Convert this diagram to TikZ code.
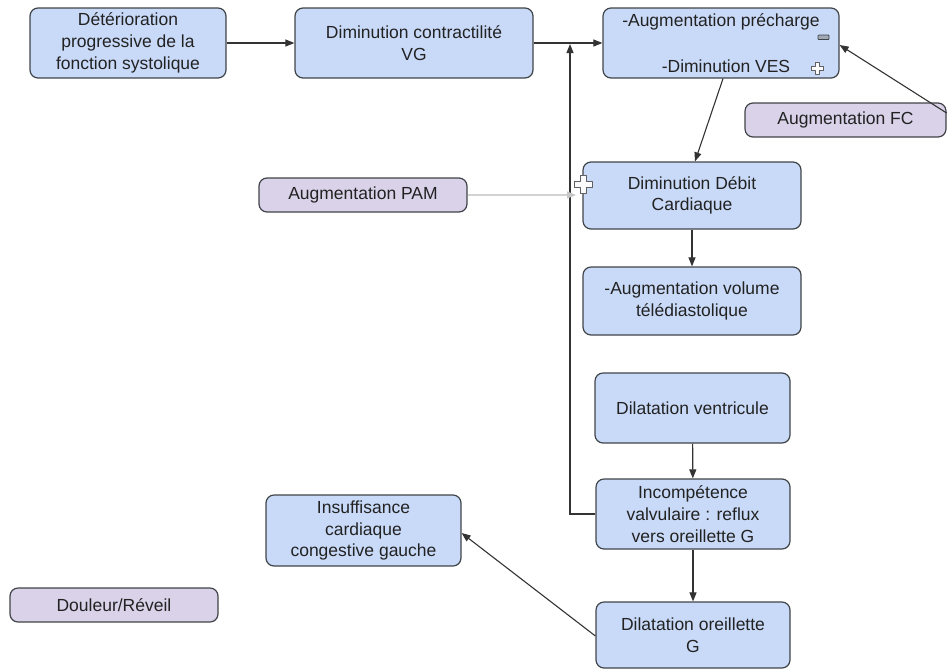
\documentclass[tikz,border=0pt]{standalone}
\usepackage{fontspec}
\setmainfont{Liberation Sans}
\usetikzlibrary{arrows.meta,calc}
\definecolor{bfill}{HTML}{C9DAF8}
\definecolor{pfill}{HTML}{D9D2E9}
\definecolor{bord}{HTML}{404448}
\definecolor{txt}{HTML}{222222}
\definecolor{arrc}{HTML}{333333}
\begin{document}
\begin{tikzpicture}[x=1pt,y=-1pt,
  box/.style={draw=bord, line width=1.2pt, rounded corners=8pt, fill=bfill,
    align=center, text=txt, inner sep=0pt,
    font=\fontsize{17.5}{21.7}\selectfont},
  pbox/.style={box, fill=pfill},
  arr/.style={draw=arrc, line width=1.1pt, -{Triangle[length=9pt,width=7pt]}},
  crossmark/.pic={\draw[draw=gray!75!black, fill=white!88!pfill, line width=0.9pt, line join=round]
    (-2,-6) -- (2,-6) -- (2,-2) -- (6,-2) -- (6,2) -- (2,2) -- (2,6) -- (-2,6) -- (-2,2)
    -- (-6,2) -- (-6,-2) -- (-2,-2) -- cycle;}
]
\useasboundingbox (0,0) rectangle (949,670);

% nodes
\node[box, minimum width=196pt, minimum height=70pt] (n1) at (128,43)
  {Détérioration\\progressive de la\\fonction systolique};
\node[box, minimum width=238pt, minimum height=70pt] (n2) at (414,43)
  {Diminution contractilité\\VG};
\node[box, minimum width=236pt, minimum height=70pt] (n3) at (721,43)
  {-Augmentation précharge\\[24.3pt]\hspace*{10pt}-Diminution VES};
\node[pbox, minimum width=201pt, minimum height=34pt] (fc) at (845.5,120)
  {Augmentation FC};
\node[box, minimum width=218pt, minimum height=67pt] (deb) at (692,195.5)
  {Diminution Débit\\Cardiaque};
\node[pbox, minimum width=208pt, minimum height=34pt] (pam) at (363,195)
  {Augmentation PAM};
\node[box, minimum width=218pt, minimum height=68pt] (vol) at (692,301)
  {-Augmentation volume\\télédiastolique};
\node[box, minimum width=195pt, minimum height=70pt] (dil) at (692.5,408)
  {Dilatation ventricule};
\node[box, minimum width=194pt, minimum height=70pt] (inc) at (693,514)
  {Incompétence\\valvulaire : reflux\\vers oreillette G};
\node[box, minimum width=194pt, minimum height=66pt] (ore) at (693,635)
  {Dilatation oreillette\\G};
\node[box, minimum width=195pt, minimum height=71pt] (ins) at (363.5,530.5)
  {Insuffisance\\cardiaque\\congestive gauche};
\node[pbox, minimum width=208pt, minimum height=34pt] (dou) at (114,605)
  {Douleur/Réveil};

% signs
\draw[draw=bord, fill=gray!55!bfill, line width=0.8pt, rounded corners=0.8pt]
  (818,35) rectangle (829,39.5);
\pic at (817,68) {crossmark};
\pic[scale=1.5] at (583,184) {crossmark};

% connectors
\coordinate (j) at (570,44);
\draw[arr] (n1) -- (n2);
\draw[arr] (n2) -- (n3);
\draw[arr] (inc.west) -| (j);
\draw[arr] ([xshift=2pt]n3.south) -- ([xshift=3pt]deb.north);
\draw[arr] ([yshift=7pt]fc.east) -- ([yshift=-2pt]n3.east);
\draw[draw=gray!35, line width=1.1pt, -{Triangle[length=9pt,width=7pt,color=gray!45,fill=gray!45]}]
  (pam.east) -- (576,195);
\draw[arr] (deb) -- (vol);
\draw[arr] (dil) -- (inc);
\draw[arr] (inc) -- (ore);
\draw[arr] ([yshift=-1pt]ore.west) -- ([yshift=-2.5pt]ins.east);
\end{tikzpicture}
\end{document}
